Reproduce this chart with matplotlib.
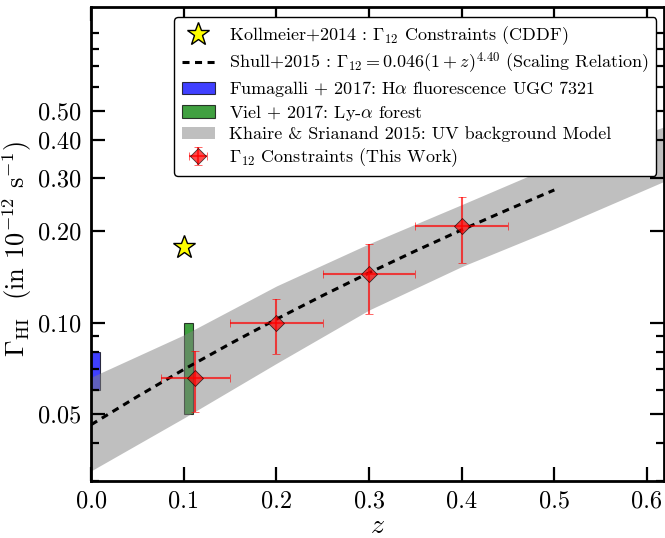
import matplotlib

matplotlib.use("Agg")
import matplotlib.pyplot as plt
from matplotlib.ticker import FixedLocator, FormatStrFormatter, LogLocator, NullFormatter

plt.rcParams["font.family"] = "serif"
plt.rcParams["font.serif"] = ["cmr10", "DejaVu Serif"]
plt.rcParams["mathtext.fontset"] = "cm"
plt.rcParams["axes.formatter.use_mathtext"] = True
plt.rcParams["axes.unicode_minus"] = False

# Khaire & Srianand 2015 UV background band
ks_z = [0.0, 0.1, 0.2, 0.3, 0.4, 0.5, 0.618]
ks_low = [0.0324, 0.0484, 0.0733, 0.110, 0.153, 0.204, 0.292]
ks_high = [0.0660, 0.0910, 0.132, 0.182, 0.245, 0.331, 0.442]

# Shull+2015 scaling relation, sampled values
shull_z = [0.0, 0.05, 0.1, 0.15, 0.2, 0.25, 0.3, 0.35, 0.4, 0.45, 0.5]
shull_g = [0.0460, 0.0570, 0.0700, 0.0851, 0.1026, 0.1228, 0.1459, 0.1723, 0.2022, 0.2359, 0.2739]

# Kollmeier+2014
koll_z = [0.1]
koll_g = [0.177]

# Fumagalli 2017 (z range, gamma range) and Viel 2017
fum_z = (0.0, 0.01)
fum_g = (0.060, 0.080)
viel_z = (0.1, 0.11)
viel_g = (0.050, 0.100)

# this work
pts_z = [0.112, 0.2, 0.3, 0.4]
pts_g = [0.0655, 0.100, 0.145, 0.209]
pts_zlo = [0.037, 0.05, 0.05, 0.05]
pts_zhi = [0.038, 0.05, 0.05, 0.05]
pts_glo = [0.0147, 0.0214, 0.038, 0.052]
pts_ghi = [0.0148, 0.020, 0.036, 0.051]

yticks = [0.05, 0.10, 0.20, 0.30, 0.40, 0.50]
xticks = [0.0, 0.1, 0.2, 0.3, 0.4, 0.5, 0.6]

fig = plt.figure(figsize=(6.65, 5.38), dpi=100)
ax = fig.add_axes([0.137, 0.106, 0.861, 0.881])

h_koll, = ax.plot(koll_z, koll_g, ls="none", marker="*", ms=17, mfc="yellow", mec="black",
                  mew=1.0, label=r"Kollmeier+2014 : $\Gamma_{12}$ Constraints (CDDF)")
h_shull, = ax.plot(shull_z, shull_g, ls="--", color="black", lw=2.2, dashes=(2.3, 1.8),
                   label=r"Shull+2015 : $\Gamma_{12} = 0.046(1+z)^{4.40}$ (Scaling Relation)")
h_fum = ax.bar(fum_z[0], fum_g[1] - fum_g[0], width=fum_z[1] - fum_z[0], bottom=fum_g[0],
               align="edge", color="blue", alpha=0.75, edgecolor="black", lw=0.8,
               label=r"Fumagalli + 2017: H$\alpha$ fluorescence UGC 7321")
h_viel = ax.bar(viel_z[0], viel_g[1] - viel_g[0], width=viel_z[1] - viel_z[0], bottom=viel_g[0],
                align="edge", color="green", alpha=0.75, edgecolor="black", lw=0.8,
                label=r"Viel + 2017: Ly-$\alpha$ forest")
h_ks = ax.fill_between(ks_z, ks_low, ks_high, color="gray", alpha=0.5, lw=0,
                       label="Khaire & Srianand 2015: UV background Model")
h_pts = ax.errorbar(pts_z, pts_g, xerr=[pts_zlo, pts_zhi], yerr=[pts_glo, pts_ghi],
                    fmt="D", ms=8, mfc="red", mec="black", mew=0.6, ecolor="red",
                    elinewidth=1.5, capsize=3, capthick=1.2, alpha=0.7,
                    label=r"$\Gamma_{12}$ Constraints (This Work)")

ax.set_yscale("log")
ax.set_xlim(0.0, 0.618)
ax.set_ylim(0.03, 1.1)
ax.yaxis.set_major_locator(FixedLocator(yticks))
ax.yaxis.set_major_formatter(FormatStrFormatter("%.2f"))
ax.yaxis.set_minor_locator(LogLocator(base=10, subs=[2, 3, 4, 5, 6, 7, 8, 9]))
ax.yaxis.set_minor_formatter(NullFormatter())
ax.set_xticks(xticks)
ax.xaxis.set_major_formatter(FormatStrFormatter("%.1f"))

ax.tick_params(which="both", direction="in", top=True, right=True, labelsize=17.5)
ax.tick_params(which="major", length=10, width=1.6, pad=7)
ax.tick_params(which="minor", length=6, width=1.6)
for sp in ax.spines.values():
    sp.set_linewidth(2)

ax.set_xlabel(r"$z$", fontsize=20)
ax.xaxis.set_label_coords(0.5, -0.066)
ax.set_ylabel(r"$\Gamma_{\rm HI}$  (in $10^{-12}$ s$^{-1}$)", fontsize=19)
ax.yaxis.set_label_coords(-0.1, 0.49)

handles = [h_koll, h_shull, h_fum, h_viel, h_ks, h_pts]
ax.legend(handles=handles, loc="upper right", fontsize=13, numpoints=1, frameon=True,
          fancybox=True, framealpha=1.0, edgecolor="black", borderpad=0.4,
          labelspacing=0.2, handlelength=1.85, borderaxespad=0,
          bbox_to_anchor=(0.987, 0.979))

fig.savefig("out.png", dpi=100)
